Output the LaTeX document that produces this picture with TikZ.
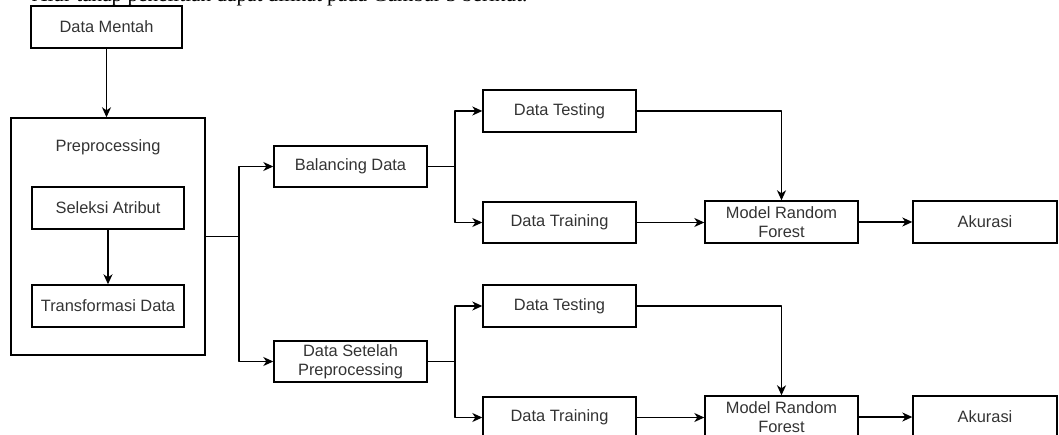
\documentclass[tikz,border=0pt]{standalone}
\usepackage{fontspec}
\setmainfont{Liberation Sans}
\newfontfamily\serifbody{Liberation Serif}
\usetikzlibrary{arrows.meta,positioning}

\tikzset{
  box/.style={draw, line width=1.4pt, minimum width=153pt, minimum height=42pt,
    inner sep=2pt, align=center, text=black!80},
  flow/.style={line width=1.4pt, line join=round}
}

\begin{document}
\begin{tikzpicture}[x=1pt,y=-1pt,>={Stealth[length=10pt,width=9pt,inset=3pt]},
    font=\fontsize{16.4}{19}\selectfont]
  \useasboundingbox (0,0) rectangle (1059,435);
  \clip (0,0) rectangle (1059,435);

  % line of body text above the figure
  \node[anchor=base west, inner sep=0pt, font=\serifbody\fontsize{21.2}{24}\selectfont]
    (alur) at (32,2) {Alur tahap penelitian dapat dilihat pada Gambar 3 berikut.};

  % left column
  \node[box, minimum width=151pt] (mentah) at (106.5,27) {Data Mentah};
  \node[box, minimum width=194pt, minimum height=237pt] (prep) at (108,236.5) {};
  \node[text=black!80] (preplabel) at (108,147) {Preprocessing};
  \node[box, minimum width=152pt] (seleksi) at (108,208) {Seleksi Atribut};
  \node[box, minimum width=152pt] (transform) at (108,306) {Transformasi Data};

  % middle
  \node[box, minimum height=41pt] (balancing) at (350.5,166.5) {Balancing Data};
  \node[box, minimum height=41pt] (setelah) at (350.5,361.5) {Data Setelah\\Preprocessing};

  \node[box] (testA) at (559.5,111) {Data Testing};
  \node[box, minimum height=41pt] (trainA) at (559.5,222.5) {Data Training};
  \node[box] (testB) at (559.5,306) {Data Testing};
  \node[box, minimum height=41pt] (trainB) at (559.5,417.5) {Data Training};

  % right
  \node[box] (rfA) at (781.5,222) {Model Random\\Forest};
  \node[box] (rfB) at (781.5,417) {Model Random\\Forest};
  \node[box, minimum width=144pt] (akurasiA) at (985,222) {Akurasi};
  \node[box, minimum width=144pt] (akurasiB) at (985,417) {Akurasi};

  % connectors
  \draw[flow,->] (mentah.south) -- (mentah.south |- prep.north);
  \draw[flow,->] (seleksi) -- (transform);

  \coordinate (split) at (239,236.5);
  \draw[flow] (prep.east) -- (split);
  \draw[flow,->] (split) |- (balancing.west);
  \draw[flow,->] (split) |- (setelah.west);

  \coordinate (splitA) at (455,166.5);
  \draw[flow] (balancing.east) -- (splitA);
  \draw[flow,->] (splitA) |- (testA.west);
  \draw[flow,->] (splitA) |- (trainA.west);

  \coordinate (splitB) at (455,361.5);
  \draw[flow] (setelah.east) -- (splitB);
  \draw[flow,->] (splitB) |- (testB.west);
  \draw[flow,->] (splitB) |- (trainB.west);

  \draw[flow,->] (testA.east) -| (rfA.north);
  \draw[flow,->] (trainA.east) -- (trainA.east -| rfA.west);
  \draw[flow,->] (rfA) -- (akurasiA);

  \draw[flow,->] (testB.east) -| (rfB.north);
  \draw[flow,->] (trainB.east) -- (trainB.east -| rfB.west);
  \draw[flow,->] (rfB) -- (akurasiB);
\end{tikzpicture}
\end{document}
